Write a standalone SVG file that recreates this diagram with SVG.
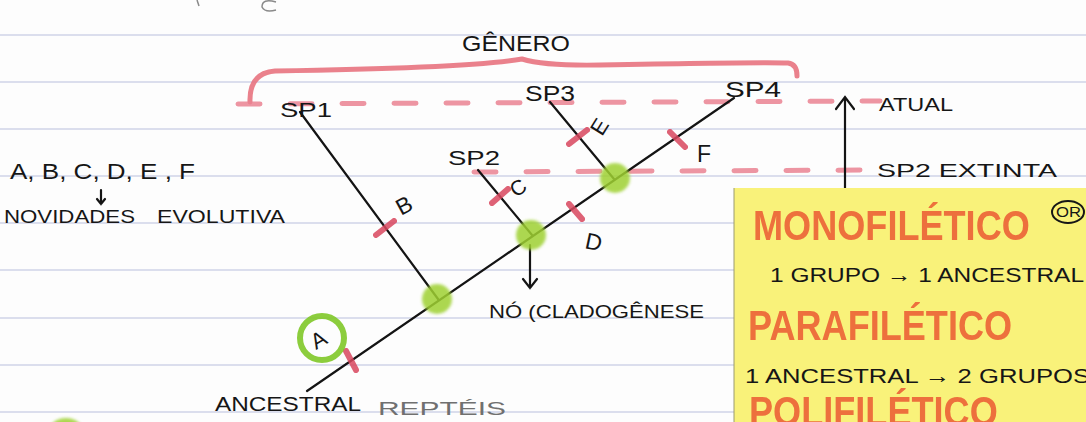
<svg xmlns="http://www.w3.org/2000/svg" width="1086" height="422" viewBox="0 0 1086 422">
<defs>
<filter id="soft" x="-30%" y="-30%" width="160%" height="160%"><feGaussianBlur stdDeviation="1.6"/></filter>
</defs>
<style>
.rule{stroke:#8c95c8;stroke-width:1.2;opacity:.6}
.ink{font-family:"Liberation Sans","DejaVu Sans",sans-serif;fill:#161616}
.pen{stroke:#141414;stroke-width:2.2;fill:none;stroke-linecap:round}
.dash{stroke:#ea8392;stroke-width:5;stroke-linecap:round;fill:none;stroke-dasharray:22 30;opacity:.85}
.tick{stroke:#d9485f;stroke-width:6;stroke-linecap:round;opacity:.85}
.node{fill:#9fd132;opacity:.85;filter:url(#soft)}
.head{font-family:"Liberation Sans","DejaVu Sans",sans-serif;font-weight:bold;fill:#ec6638;opacity:.92}
</style>
<rect width="1086" height="422" fill="#fdfdfd"/>
<g id="ruled-lines">
<line class="rule" x1="0" y1="35" x2="1086" y2="35"/>
<line class="rule" x1="0" y1="82" x2="1086" y2="82"/>
<line class="rule" x1="0" y1="129" x2="1086" y2="129"/>
<line class="rule" x1="0" y1="176" x2="1086" y2="176"/>
<line class="rule" x1="0" y1="223" x2="1086" y2="223"/>
<line class="rule" x1="0" y1="270" x2="1086" y2="270"/>
<line class="rule" x1="0" y1="318" x2="1086" y2="318"/>
<line class="rule" x1="0" y1="365" x2="1086" y2="365"/>
<line class="rule" x1="0" y1="412" x2="1086" y2="412"/>
</g>
<g id="pencil-marks" fill="none" stroke="#8a8a8a" stroke-width="1.5">
<path d="M197,0 L199,6"/>
<path d="M276,2 Q262,-2 262,7 Q265,13 276,10"/>
</g>
<ellipse cx="66" cy="432" rx="17" ry="14" class="node"/>
<g id="genero">
<path d="M250,102 Q249,73 275,71 Q470,68 522,59 Q545,66 600,65 Q760,62 788,63 Q797,64 797,76" fill="none" stroke="#e8737f" stroke-width="5" stroke-linecap="round" opacity=".9"/>
<text class="ink" x="462" y="51" font-size="22" textLength="108" lengthAdjust="spacingAndGlyphs">GÊNERO</text>
</g>
<g id="time-lines">
<line class="dash" x1="238" y1="104" x2="880" y2="101"/>
<line class="dash" x1="474" y1="172" x2="868" y2="170"/>
</g>
<g id="connectors">
<line class="pen" x1="307" y1="391" x2="734" y2="98"/>
<line class="pen" x1="300" y1="112" x2="438" y2="299"/>
<line class="pen" x1="478" y1="170" x2="532" y2="235"/>
<line class="pen" x1="550" y1="102" x2="614" y2="179"/>
<path class="pen" d="M530,245 L530,288 M523,279 L530,288 L537,279"/>
<path class="pen" d="M845,188 L845,98 M836,109 L845,97 L854,109"/>
<path class="pen" stroke-width="1.6" d="M101,190 L101,204 M97,199 L101,204 L105,199"/>
</g>
<g id="ticks">
<line class="tick" x1="376" y1="235" x2="394" y2="221"/>
<line class="tick" x1="492" y1="203" x2="508" y2="189"/>
<line class="tick" x1="569" y1="144" x2="587" y2="130"/>
<line class="tick" x1="569" y1="204" x2="582" y2="219"/>
<line class="tick" x1="670" y1="132" x2="685" y2="147"/>
<line class="tick" x1="346" y1="351" x2="356" y2="370"/>
</g>
<g id="node-1"><circle cx="437" cy="299" r="15" class="node"/></g>
<g id="node-2"><circle cx="531" cy="235" r="15" class="node"/></g>
<g id="node-3"><circle cx="615" cy="178" r="15" class="node"/></g>
<g id="sp1"><text class="ink" x="280" y="117" font-size="21" textLength="52" lengthAdjust="spacingAndGlyphs">SP1</text></g>
<g id="sp2"><text class="ink" x="448" y="165" font-size="20" textLength="52" lengthAdjust="spacingAndGlyphs">SP2</text></g>
<g id="sp3"><text class="ink" x="525" y="101" font-size="22" textLength="50" lengthAdjust="spacingAndGlyphs">SP3</text></g>
<g id="sp4"><text class="ink" x="725" y="97" font-size="22" textLength="56" lengthAdjust="spacingAndGlyphs">SP4</text></g>
<g id="labels-abcdef">
<text class="ink" font-size="23" transform="translate(401,216) rotate(-28)">B</text>
<text class="ink" font-size="21" transform="translate(516,198) rotate(-35)">C</text>
<text class="ink" font-size="22" transform="translate(602,137) rotate(-58)">E</text>
<text class="ink" font-size="23" transform="translate(584,248) rotate(12)">D</text>
<text class="ink" font-size="23" x="697" y="162">F</text>
</g>
<g id="novidade-a">
<circle cx="322" cy="338" r="22" fill="none" stroke="#80c828" stroke-width="6" opacity=".9"/>
<text class="ink" font-size="22" transform="translate(316,350) rotate(-30)">A</text>
</g>
<g id="atual"><text class="ink" x="879" y="111" font-size="19" textLength="74" lengthAdjust="spacingAndGlyphs">ATUAL</text></g>
<g id="extinta"><text class="ink" x="877" y="177" font-size="19" textLength="180" lengthAdjust="spacingAndGlyphs">SP2 EXTINTA</text></g>
<g id="legend">
<text class="ink" x="10" y="179" font-size="22" textLength="185" lengthAdjust="spacingAndGlyphs">A, B, C, D, E , F</text>
<text class="ink" x="4" y="223" font-size="19" textLength="131" lengthAdjust="spacingAndGlyphs">NOVIDADES</text>
<text class="ink" x="157" y="223" font-size="19" textLength="128" lengthAdjust="spacingAndGlyphs">EVOLUTIVA</text>
</g>
<g id="no-cladogenese"><text class="ink" x="489" y="318" font-size="19" textLength="215" lengthAdjust="spacingAndGlyphs">NÓ (CLADOGÊNESE</text></g>
<g id="ancestral">
<text class="ink" x="215" y="411" font-size="20" textLength="146" lengthAdjust="spacingAndGlyphs">ANCESTRAL</text>
<text class="ink" x="378" y="415" font-size="19" style="fill:#707070" textLength="128" lengthAdjust="spacingAndGlyphs">REPTÉIS</text>
</g>
<g id="sticky-note">
<rect x="734" y="188" width="360" height="240" fill="#f9f27a"/>
<line x1="734" y1="188" x2="734" y2="422" stroke="#9a9a70" stroke-width="1"/>
<text class="head" font-size="42" transform="translate(753,240) scale(0.86,1)">MONOFILÉTICO</text>
<ellipse cx="1068" cy="212" rx="16" ry="11" fill="none" stroke="#161616" stroke-width="2"/>
<text class="ink" x="1056" y="217" font-size="14" textLength="25" lengthAdjust="spacingAndGlyphs">OR</text>
<text class="ink" x="770" y="282" font-size="21" textLength="314" lengthAdjust="spacingAndGlyphs">1 GRUPO → 1 ANCESTRAL</text>
<text class="head" font-size="42" transform="translate(748,340) scale(0.86,1)">PARAFILÉTICO</text>
<text class="ink" x="745" y="383" font-size="21" textLength="345" lengthAdjust="spacingAndGlyphs">1 ANCESTRAL → 2 GRUPOS</text>
<text class="head" font-size="42" transform="translate(749,426) scale(0.86,1)">POLIFILÉTICO</text>
</g>
</svg>
